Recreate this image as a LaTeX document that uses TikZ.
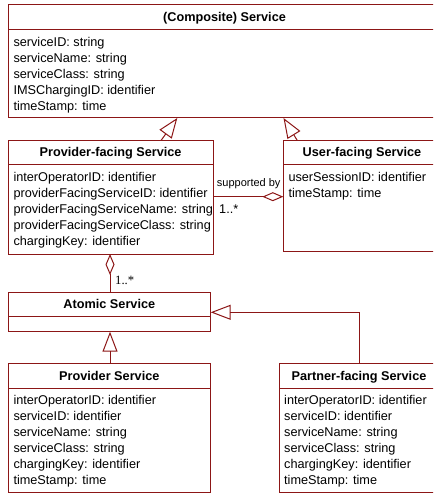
\documentclass[tikz,border=0pt]{standalone}
\usepackage{fontspec}
\setmainfont{Liberation Sans}
\newfontfamily\seriffont{Liberation Serif}
\usetikzlibrary{arrows.meta}
\definecolor{dred}{RGB}{140,22,22}
\begin{document}
\begin{tikzpicture}[x=1pt,y=-1pt,
  cls/.style={draw=dred,line width=1pt,fill=white,inner sep=0pt,outer sep=0pt,anchor=north west},
  divl/.style={draw=dred,line width=1pt},
  ttl/.style={font=\fontsize{12.7}{16}\selectfont\bfseries,anchor=base,inner sep=0pt},
  attr/.style={font=\fontsize{12.7}{16}\selectfont,anchor=base west,inner sep=0pt},
  lbl/.style={font=\fontsize{11}{13}\selectfont,anchor=base west,inner sep=0pt},
  mult/.style={font=\fontsize{12.7}{16}\selectfont,anchor=base west,inner sep=0pt},
  multserif/.style={font=\fontsize{12.7}{16}\selectfont\seriffont,anchor=base west,inner sep=0pt},
  gen/.style={draw=dred,line width=1pt,-{Triangle[open,length=20pt,width=15pt]}},
  agg/.style={draw=dred,line width=1pt,{Diamond[open,length=21pt,width=9pt]}-}]
\useasboundingbox (0,0) rectangle (433,494);
\clip (0,0) rectangle (433,494);

% (Composite) Service
\node[cls,minimum width=433pt,minimum height=113pt] (comp) at (8,5) {};
\draw[divl] ([yshift=-24.5pt]comp.north west) -- ([yshift=-24.5pt]comp.north east);
\node[ttl] (compT) at (224.5,21.5) {(Composite) Service};
\foreach \t [count=\i] in {serviceID: string,serviceName: string,serviceClass: string,IMSChargingID: identifier,timeStamp: time}
  \node[attr] (compA\i) at (13.3,{46.3+16*(\i-1)}) {\t};

% Provider-facing Service
\node[cls,minimum width=205.3pt,minimum height=113.5pt] (pfs) at (8,140.5) {};
\draw[divl] ([yshift=-24pt]pfs.north west) -- ([yshift=-24pt]pfs.north east);
\node[ttl] (pfsT) at (110.6,156.5) {Provider-facing Service};
\foreach \t [count=\i] in {interOperatorID: identifier,providerFacingServiceID: identifier,providerFacingServiceName: string,providerFacingServiceClass: string,chargingKey: identifier}
  \node[attr] (pfsA\i) at (13.3,{181.7+16*(\i-1)}) {\t};

% User-facing Service
\node[cls,minimum width=157.7pt,minimum height=110.5pt] (ufs) at (283.3,140.5) {};
\draw[divl] ([yshift=-24pt]ufs.north west) -- ([yshift=-24pt]ufs.north east);
\node[ttl] (ufsT) at (362,156.5) {User-facing Service};
\foreach \t [count=\i] in {userSessionID: identifier,timeStamp: time}
  \node[attr] (ufsA\i) at (288.3,{181.7+16*(\i-1)}) {\t};

% Atomic Service
\node[cls,minimum width=202.7pt,minimum height=39.4pt] (atom) at (8,292.3) {};
\draw[divl] ([yshift=-24.4pt]atom.north west) -- ([yshift=-24.4pt]atom.north east);
\node[ttl] (atomT) at (109.3,308.7) {Atomic Service};

% Provider Service
\node[cls,minimum width=202.7pt,minimum height=129pt] (prov) at (8,363.3) {};
\draw[divl] ([yshift=-25pt]prov.north west) -- ([yshift=-25pt]prov.north east);
\node[ttl] (provT) at (109.3,380.2) {Provider Service};
\foreach \t [count=\i] in {interOperatorID: identifier,serviceID: identifier,serviceName: string,serviceClass: string,chargingKey: identifier,timeStamp: time}
  \node[attr] (provA\i) at (13.3,{404.8+16*(\i-1)}) {\t};

% Partner-facing Service
\node[cls,minimum width=162pt,minimum height=129pt] (part) at (279,363.3) {};
\draw[divl] ([yshift=-25pt]part.north west) -- ([yshift=-25pt]part.north east);
\node[ttl] (partT) at (359,380.2) {Partner-facing Service};
\foreach \t [count=\i] in {interOperatorID: identifier,serviceID: identifier,serviceName: string,serviceClass: string,chargingKey: identifier,timeStamp: time}
  \node[attr] (partA\i) at (284,{404.8+16*(\i-1)}) {\t};

% generalizations to (Composite) Service
\draw[gen] ([xshift=153pt]pfs.north west) -- ([xshift=169.3pt]comp.south west);
\draw[gen] ([xshift=14pt]ufs.north west) -- ([xshift=275.5pt]comp.south west);

% supported by aggregation
\draw[agg] ([yshift=-56.2pt]ufs.north west) -- ([yshift=-56.2pt]pfs.north east);
\node[lbl] (supby) at (216.7,186) {supported by};
\node[mult] (m1) at (219,213) {1..*};

% aggregation Provider-facing -> Atomic
\draw[agg] ([xshift=102pt]pfs.south west) -- ([xshift=102pt]atom.north west);
\node[multserif] (m2) at (115,284.5) {1..*};

% generalizations to Atomic Service
\draw[gen] ([xshift=102pt]prov.north west) -- ([xshift=102pt]atom.south west);
\draw[gen] ([xshift=80pt]part.north west) |- ([yshift=-20pt]atom.north east);
\end{tikzpicture}
\end{document}
